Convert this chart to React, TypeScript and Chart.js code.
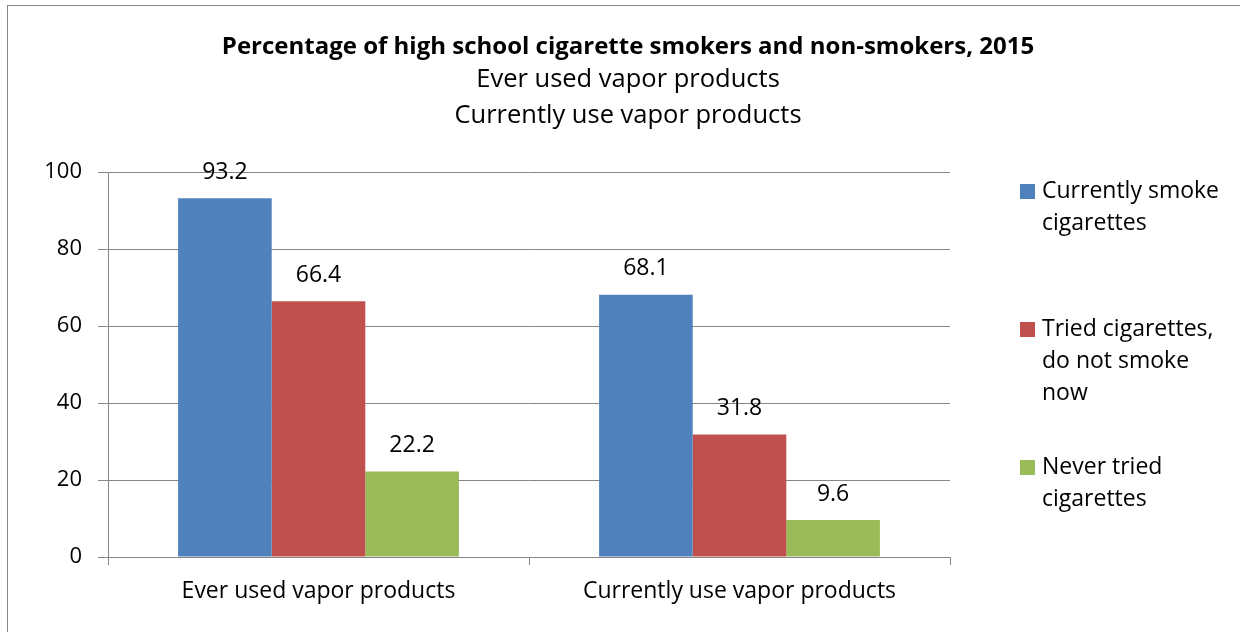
import React, { useEffect, useRef } from "react";
import { Chart, registerables } from "chart.js";

Chart.register(...registerables);

const categories = ["Ever used vapor products", "Currently use vapor products"];
const seriesNames = [
  "Currently smoke cigarettes",
  "Tried cigarettes, do not smoke now",
  "Never tried cigarettes",
];
const legendLines = [
  ["Currently smoke", "cigarettes"],
  ["Tried cigarettes,", "do not smoke", "now"],
  ["Never tried", "cigarettes"],
];
const currentlySmoke = [93.2, 68.1];
const triedNotNow = [66.4, 31.8];
const neverTried = [22.2, 9.6];
const seriesColors = ["#4F81BD", "#C0504D", "#9BBB59"];
const titleText = "Percentage of high school cigarette smokers and non-smokers, 2015";
const subtitleLines = ["Ever used vapor products", "Currently use vapor products"];
const yTicks = [0, 20, 40, 60, 80, 100];

const FONT = "'Open Sans', sans-serif";
const FS = 23;
const GRID = "#868686";

export default function App() {
  const ref = useRef<HTMLCanvasElement | null>(null);

  useEffect(() => {
    document.body.style.margin = "0";
    const canvas = ref.current!;
    const values = [currentlySmoke, triedNotNow, neverTried];

    const decor = {
      id: "decor",
      beforeDraw(chart: any) {
        const ctx = chart.ctx;
        ctx.save();
        ctx.fillStyle = "#ffffff";
        ctx.fillRect(0, 0, chart.width, chart.height);
        ctx.strokeStyle = GRID;
        ctx.lineWidth = 1;
        ctx.strokeRect(7.5, 5.5, 1300, 700);
        ctx.restore();
      },
      afterDraw(chart: any) {
        const ctx = chart.ctx;
        ctx.save();
        ctx.fillStyle = "#000";
        ctx.textAlign = "center";
        ctx.textBaseline = "middle";
        ctx.font = `bold 24px ${FONT}`;
        ctx.fillText(titleText, 628, 47);
        ctx.font = `25.5px ${FONT}`;
        subtitleLines.forEach((s, i) => ctx.fillText(s, 628, 80 + i * 36));

        // legend
        ctx.font = `${FS}px ${FONT}`;
        const starts = [191, 329, 467];
        chart.data.datasets.forEach((ds: any, i: number) => {
          ctx.fillStyle = ds.backgroundColor;
          ctx.fillRect(1020, starts[i] - 7, 15, 15);
          ctx.fillStyle = "#000";
          ctx.textAlign = "left";
          legendLines[i].forEach((ln, j) => ctx.fillText(ln, 1042, starts[i] + j * 32));
        });

        // data labels
        ctx.textAlign = "center";
        chart.data.datasets.forEach((ds: any, i: number) => {
          const meta = chart.getDatasetMeta(i);
          meta.data.forEach((el: any, j: number) => {
            ctx.fillText(String(ds.data[j]), el.x, el.y - 26);
          });
        });
        ctx.restore();
      },
    };

    const chart = new Chart(canvas, {
      type: "bar",
      data: {
        labels: categories,
        datasets: values.map((v, i) => ({
          label: seriesNames[i],
          data: v,
          backgroundColor: seriesColors[i],
          borderWidth: 0,
          barPercentage: 1,
          categoryPercentage: 0.667,
        })),
      },
      options: {
        responsive: false,
        animation: false,
        devicePixelRatio: 1,
        layout: { padding: { left: 0, right: 290, top: 172, bottom: 0 } },
        plugins: {
          legend: { display: false },
          title: { display: false },
          tooltip: { enabled: false },
        },
        scales: {
          x: {
            afterFit(scale: any) {
              scale.height = 75;
            },
            grid: {
              display: true,
              drawOnChartArea: false,
              drawTicks: true,
              tickLength: 8,
              offset: true,
              color: GRID,
            },
            border: { color: GRID, width: 1 },
            ticks: {
              color: "#000",
              font: { family: FONT, size: FS },
              padding: 13,
              maxRotation: 0,
            },
          },
          y: {
            min: 0,
            max: 100,
            afterFit(scale: any) {
              scale.width = 108;
            },
            afterBuildTicks(scale: any) {
              scale.ticks = yTicks.map((v) => ({ value: v }));
            },
            grid: {
              color: GRID,
              tickLength: 10,
              drawTicks: true,
            },
            border: { color: GRID, width: 1 },
            ticks: {
              color: "#000",
              font: { family: FONT, size: 22 },
              padding: 16,
            },
          },
        },
      },
      plugins: [decor],
    });

    return () => chart.destroy();
  }, []);

  return (
    <div style={{ position: "absolute", left: 0, top: 0, width: 1240, height: 632 }}>
      <canvas ref={ref} width={1240} height={632} style={{ display: "block", width: 1240, height: 632 }} />
    </div>
  );
}
